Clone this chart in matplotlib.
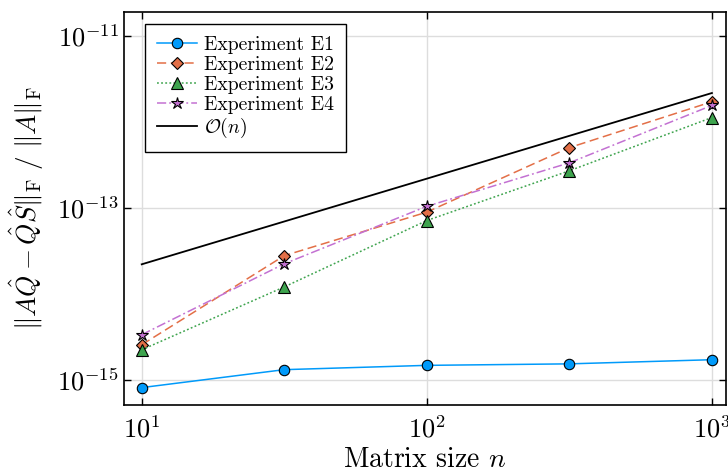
import numpy as np
import matplotlib
matplotlib.use('agg')
import matplotlib.pyplot as plt

plt.rcParams['font.family'] = 'serif'
plt.rcParams['font.serif'] = ['cmr10']
plt.rcParams['mathtext.fontset'] = 'cm'
plt.rcParams['axes.formatter.use_mathtext'] = True

## Matrix sizes
n_vals = [10, 31.6, 100, 316, 1000]

## Relative residuals
err_e1 = [8.1e-16, 1.31e-15, 1.47e-15, 1.53e-15, 1.71e-15]
err_e2 = [2.55e-15, 2.77e-14, 8.9e-14, 5.0e-13, 1.71e-12]
err_e3 = [2.23e-15, 1.20e-14, 7.1e-14, 2.69e-13, 1.12e-12]
err_e4 = [3.34e-15, 2.23e-14, 1.04e-13, 3.33e-13, 1.55e-12]

## Reference slope line
ref_n = [10, 1000]
ref_vals = [2.2e-14, 2.16e-12]

labels = ['Experiment E1', 'Experiment E2', 'Experiment E3', 'Experiment E4']
colors = ['#009AFA', '#E36F47', '#3EA44E', '#C371D2']
styles = ['-', (0, (6, 3)), (0, (1.2, 1.5)), (0, (6, 2, 1.2, 2))]
markers = ['o', 'D', '^', '*']
msizes = [7.5, 6, 8, 9]

fig = plt.figure(figsize=(7.28, 4.73), dpi=100)
ax = fig.add_axes([0.170, 0.144, 0.827, 0.831])

for err, lab, col, ls, mk, ms in zip([err_e1, err_e2, err_e3, err_e4], labels, colors, styles, markers, msizes):
    ax.plot(n_vals, err, color=col, ls=ls, lw=1.1, marker=mk, ms=ms,
            mfc=col, mec='black', mew=0.8, label=lab)
ax.plot(ref_n, ref_vals, color='black', lw=1.3, label=r'$\mathcal{O}(n)$')

ax.set_xscale('log')
ax.set_yscale('log')
ax.set_xlim(8.65, 1119)
ax.set_ylim(5.1e-16, 1.9e-11)
ax.set_xticks([1e1, 1e2, 1e3])
ax.set_yticks([1e-15, 1e-13, 1e-11])
ax.minorticks_off()
ax.tick_params(which='major', direction='in', top=True, right=True, length=5, width=1,
               labelsize=19)
ax.tick_params(axis='x', pad=8)
ax.grid(True, color='#dddddd', lw=1)
for sp in ax.spines.values():
    sp.set_linewidth(1.2)

ax.set_xlabel(r'Matrix size $n$', fontsize=20, labelpad=3)
ax.set_ylabel(r'$\Vert A\hat{Q} - \hat{Q}\hat{S}\Vert_{\mathrm{F}}\ /\ \Vert A\Vert_{\mathrm{F}}$',
              fontsize=19.5, labelpad=8)

leg = ax.legend(loc='upper left', fontsize=14.2, frameon=True, fancybox=False,
                edgecolor='black', framealpha=1, labelspacing=0.1, handlelength=2.06,
                handletextpad=0.36, borderpad=0.6, borderaxespad=0,
                bbox_to_anchor=(0.035, 0.969))
leg.get_frame().set_linewidth(1.0)

fig.savefig('out.png', dpi=100)
